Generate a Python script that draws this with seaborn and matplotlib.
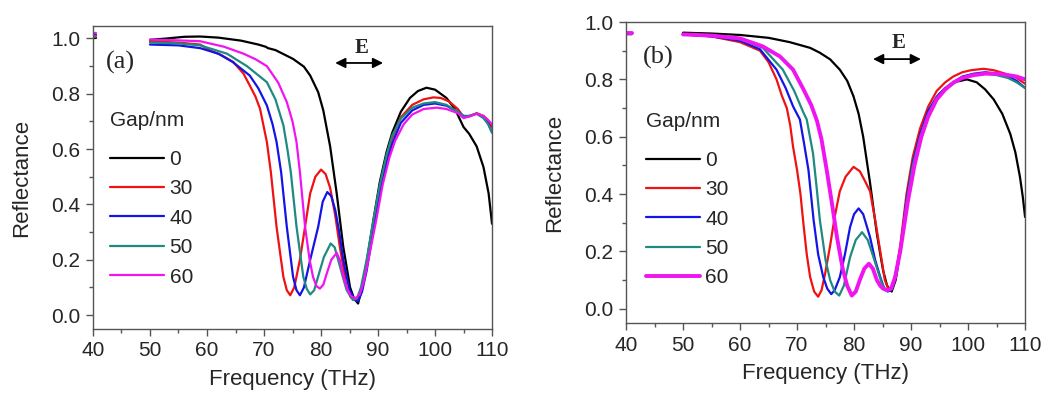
import numpy as np
import pandas as pd
import matplotlib
matplotlib.use("Agg")
import matplotlib.pyplot as plt
from matplotlib.ticker import MultipleLocator
import seaborn as sns

# ---------------- data: panel (a) ----------------
gaps = ["0", "30", "40", "50", "60"]
colors = ["#000000", "#f01212", "#1414e6", "#1f8a82", "#f014f0"]

a_f0 = [50, 53, 56, 58.8, 62, 66, 69, 70.3, 70.7, 72, 75.1, 77, 78.1, 79.5, 80.4, 81.6, 82.75, 83.9, 85.1, 85.8, 86.5, 87.2, 88, 89.2, 90.3, 91.5, 92.5, 94, 95.6, 97, 98.5, 100, 102, 103.5, 105, 106, 107.3, 108.5, 109.4, 110]
a_r0 = [0.995, 1.0, 1.006, 1.007, 1.003, 0.992, 0.978, 0.97, 0.965, 0.958, 0.926, 0.898, 0.866, 0.806, 0.74, 0.61, 0.44, 0.247, 0.10, 0.06, 0.042, 0.10, 0.19, 0.345, 0.48, 0.59, 0.66, 0.735, 0.785, 0.81, 0.822, 0.815, 0.785, 0.745, 0.68, 0.655, 0.61, 0.535, 0.44, 0.33]

a_f30 = [50, 55, 58.8, 60.5, 62.5, 64.6, 66.4, 67.5, 68.5, 69.3, 70.5, 71.2, 72.2, 73.4, 74.0, 74.6, 75.3, 76.3, 77.2, 78.1, 79.0, 80.0, 80.8, 81.6, 82.5, 83.3, 84.5, 85.2, 85.8, 86.5, 87.2, 88, 89.2, 90.3, 91.5, 92.5, 94, 96, 98, 99.7, 101, 102.5, 104, 105, 106, 107.3, 108.5, 109.3, 110]
a_r30 = [0.99, 0.985, 0.978, 0.957, 0.94, 0.915, 0.873, 0.83, 0.79, 0.746, 0.626, 0.517, 0.319, 0.138, 0.09, 0.072, 0.10, 0.2, 0.32, 0.44, 0.50, 0.526, 0.51, 0.46, 0.36, 0.247, 0.10, 0.065, 0.055, 0.06, 0.10, 0.18, 0.33, 0.46, 0.57, 0.64, 0.715, 0.76, 0.78, 0.787, 0.785, 0.772, 0.745, 0.716, 0.718, 0.73, 0.72, 0.705, 0.68]

a_f40 = [50, 55, 58.8, 62, 64.5, 67.5, 69, 70.5, 71.5, 72.2, 73, 74, 75.1, 75.7, 76.3, 77, 78.1, 79.5, 80.3, 81.1, 81.8, 82.5, 83.2, 83.9, 85, 85.9, 86.5, 87.2, 88, 89.2, 90.3, 91.5, 92.5, 94, 96, 98, 100, 102, 104, 105, 106, 107.3, 108.5, 109.3, 110]
a_r40 = [0.978, 0.975, 0.965, 0.945, 0.915, 0.866, 0.82, 0.758, 0.69, 0.626, 0.517, 0.319, 0.138, 0.09, 0.072, 0.10, 0.2, 0.319, 0.41, 0.445, 0.43, 0.38, 0.30, 0.20, 0.09, 0.055, 0.05, 0.085, 0.16, 0.31, 0.44, 0.55, 0.62, 0.695, 0.74, 0.76, 0.765, 0.757, 0.735, 0.72, 0.72, 0.728, 0.715, 0.695, 0.66]

a_f50 = [50, 55, 58.8, 63.5, 67, 70.5, 72, 73.4, 74.1, 74.7, 75.7, 76.9, 77.5, 78.1, 78.8, 79.5, 80.5, 81.7, 82.4, 83.0, 83.8, 84.5, 85.6, 86.3, 87, 88, 89.2, 90.3, 91.5, 92.5, 94, 96, 98, 100, 102, 104, 105, 106, 107.3, 108.5, 109.3, 110]
a_r50 = [0.985, 0.982, 0.975, 0.945, 0.90, 0.842, 0.78, 0.686, 0.60, 0.517, 0.32, 0.138, 0.095, 0.075, 0.09, 0.14, 0.21, 0.259, 0.245, 0.20, 0.14, 0.09, 0.055, 0.06, 0.10, 0.20, 0.345, 0.47, 0.58, 0.65, 0.71, 0.75, 0.765, 0.77, 0.76, 0.735, 0.718, 0.72, 0.728, 0.712, 0.69, 0.66]

a_f60 = [50, 55, 58.8, 63, 66.4, 68.5, 70.5, 72.5, 74, 75, 75.7, 76.3, 77.2, 78.0, 78.6, 79.2, 79.8, 80.4, 81, 81.8, 82.75, 83.3, 83.8, 84.5, 85.2, 86, 86.8, 87.5, 88.5, 89.7, 90.8, 92, 93, 94.5, 96, 98, 100.3, 102, 104, 105, 106, 107.3, 108.5, 109.3, 110]
a_r60 = [0.996, 0.993, 0.99, 0.97, 0.945, 0.925, 0.90, 0.84, 0.77, 0.70, 0.626, 0.517, 0.32, 0.20, 0.138, 0.105, 0.096, 0.11, 0.15, 0.20, 0.225, 0.20, 0.15, 0.10, 0.07, 0.06, 0.075, 0.12, 0.22, 0.345, 0.47, 0.57, 0.63, 0.69, 0.725, 0.745, 0.75, 0.745, 0.73, 0.712, 0.718, 0.728, 0.72, 0.705, 0.69]

# short stubs drawn at the left edge of each panel (40 THz)
a_stub_f = [40, 40.5]
a_stub_r = [1.0, 1.005, 1.012, 1.008, 1.02]

# ---------------- data: panel (b) ----------------
b_f0 = [50, 55, 60, 65, 68.7, 72.3, 74, 75.8, 77.5, 78.8, 79.9, 80.8, 81.6, 82.2, 82.8, 83.4, 84, 84.6, 85.1, 85.8, 86.6, 87.3, 88.1, 88.8, 89.6, 90.5, 91.5, 93, 95, 97.5, 99.8, 101.5, 103, 104.5, 106, 107.4, 108.3, 109.1, 109.6, 110]
b_r0 = [0.963, 0.96, 0.955, 0.945, 0.93, 0.91, 0.893, 0.87, 0.834, 0.795, 0.741, 0.68, 0.60, 0.52, 0.44, 0.35, 0.262, 0.19, 0.133, 0.08, 0.06, 0.10, 0.20, 0.30, 0.41, 0.50, 0.58, 0.67, 0.75, 0.79, 0.80, 0.79, 0.765, 0.73, 0.68, 0.61, 0.545, 0.46, 0.39, 0.32]

b_f30 = [50, 55, 60, 63.5, 65, 66.4, 67.3, 68.2, 68.8, 69.3, 70.0, 70.6, 71.1, 71.7, 72.3, 73.0, 73.7, 74.3, 74.9, 75.8, 76.6, 77.5, 78.5, 79.9, 81, 81.8, 82.8, 83.7, 84.6, 85.4, 86, 86.6, 87.3, 88.1, 89.2, 90.3, 91.6, 93, 94.5, 96, 97.4, 99, 100.5, 102.7, 104.5, 106.5, 108.5, 110]
b_r30 = [0.957, 0.95, 0.93, 0.90, 0.86, 0.80, 0.745, 0.70, 0.64, 0.565, 0.484, 0.40, 0.30, 0.19, 0.11, 0.06, 0.042, 0.065, 0.12, 0.22, 0.32, 0.41, 0.46, 0.495, 0.48, 0.45, 0.41, 0.31, 0.20, 0.10, 0.07, 0.07, 0.12, 0.22, 0.40, 0.53, 0.63, 0.705, 0.76, 0.79, 0.81, 0.825, 0.832, 0.837, 0.832, 0.82, 0.805, 0.785]

b_f40 = [50, 55, 60, 63.5, 66.4, 68, 69.3, 70.5, 71.2, 72, 72.9, 73.7, 74.6, 75.3, 76.0, 76.6, 77.5, 78.4, 79.3, 80, 80.8, 81.6, 82.2, 82.8, 83.7, 84.6, 85.3, 85.9, 86.6, 87.3, 88.1, 89.2, 90.3, 91.6, 93, 94.5, 96, 97.4, 99, 101, 103, 105, 107, 108.5, 110]
b_r40 = [0.957, 0.95, 0.935, 0.905, 0.834, 0.77, 0.706, 0.66, 0.58, 0.484, 0.31, 0.19, 0.11, 0.07, 0.051, 0.065, 0.11, 0.19, 0.285, 0.33, 0.35, 0.33, 0.29, 0.25, 0.17, 0.11, 0.07, 0.06, 0.065, 0.11, 0.20, 0.38, 0.51, 0.61, 0.69, 0.74, 0.77, 0.79, 0.81, 0.82, 0.825, 0.82, 0.81, 0.795, 0.77]

b_f50 = [50, 55, 60, 64, 67.5, 69.5, 71.1, 71.7, 72.8, 73.4, 74, 75, 75.8, 76.6, 77.4, 78.2, 79.3, 80.3, 81.4, 82.4, 83.4, 84.2, 84.9, 85.6, 86.3, 87, 88, 89.2, 90.3, 91.6, 93, 94.5, 96, 97.4, 99, 101, 103, 105, 107, 108.5, 110]
b_r50 = [0.957, 0.952, 0.94, 0.91, 0.834, 0.76, 0.685, 0.66, 0.542, 0.43, 0.31, 0.17, 0.10, 0.06, 0.046, 0.08, 0.18, 0.24, 0.267, 0.24, 0.18, 0.13, 0.087, 0.063, 0.065, 0.10, 0.19, 0.37, 0.50, 0.60, 0.68, 0.735, 0.765, 0.785, 0.805, 0.815, 0.82, 0.815, 0.805, 0.79, 0.77]

b_f60 = [50, 55, 60, 64, 67, 69.3, 71, 72.5, 73.5, 74.3, 75.2, 76.1, 77, 78, 78.8, 79.6, 80.3, 81, 81.8, 82.6, 83.3, 84, 84.6, 85.1, 85.8, 86.5, 87.2, 88.1, 89.4, 90.6, 91.8, 93, 94.5, 96, 97.5, 99, 101, 103, 105, 107, 108.5, 110]
b_r60 = [0.957, 0.953, 0.943, 0.915, 0.88, 0.834, 0.77, 0.71, 0.655, 0.59, 0.484, 0.37, 0.25, 0.14, 0.08, 0.046, 0.06, 0.10, 0.14, 0.157, 0.14, 0.10, 0.08, 0.07, 0.065, 0.07, 0.11, 0.20, 0.37, 0.50, 0.60, 0.67, 0.73, 0.765, 0.79, 0.805, 0.815, 0.82, 0.82, 0.815, 0.81, 0.80]

b_stub_f = [40, 41]
b_stub_r = [0.96, 0.96, 0.96, 0.96, 0.962]

x_ticks = [40, 50, 60, 70, 80, 90, 100, 110]
y_ticks = [0.0, 0.2, 0.4, 0.6, 0.8, 1.0]


def build_frame(freqs, refls, stub_f, stub_r):
    rows = []
    for g, f, r, sr in zip(gaps, freqs, refls, stub_r):
        for fi in stub_f:
            rows.append((fi, sr, g, g + "_stub"))
        for fi, ri in zip(f, r):
            rows.append((fi, ri, g, g + "_main"))
    return pd.DataFrame(rows, columns=["freq", "refl", "gap", "seg"])


df_a = build_frame([a_f0, a_f30, a_f40, a_f50, a_f60],
                   [a_r0, a_r30, a_r40, a_r50, a_r60], a_stub_f, a_stub_r)
df_b = build_frame([b_f0, b_f30, b_f40, b_f50, b_f60],
                   [b_r0, b_r30, b_r40, b_r50, b_r60], b_stub_f, b_stub_r)

sns.set_theme(style="ticks")
plt.rcParams["font.family"] = ["Liberation Sans", "DejaVu Sans"]
plt.rcParams["axes.edgecolor"] = "#555555"
plt.rcParams["axes.linewidth"] = 1.0

fig = plt.figure(figsize=(10.46, 3.94), dpi=100)
ax_a = fig.add_axes([0.0889, 0.165, 0.3815, 0.769])
ax_b = fig.add_axes([0.5985, 0.180, 0.3815, 0.764])

palette = dict(zip(gaps, colors))

panels = [
    (ax_a, df_a, (-0.05, 1.045), "(a)", (0.07, 0.88), (0.674, 0.927), (0.607, 0.727, 0.878), (0.043, 0.718), 1.6),
    (ax_b, df_b, (-0.05, 1.0), "(b)", (0.08, 0.882), (0.682, 0.929), (0.619, 0.739, 0.877), (0.05, 0.70), 2.8),
]

for ax, df, ylim, tag, tagpos, epos, arr, legpos, mag_lw in panels:
    sns.lineplot(data=df, x="freq", y="refl", hue="gap", hue_order=gaps,
                 palette=palette, units="seg", estimator=None, sort=False,
                 linewidth=1.6, ax=ax, legend=True)
    for line in ax.lines:
        if matplotlib.colors.to_hex(line.get_color()) == colors[4]:
            line.set_linewidth(mag_lw)
    ax.set_xlim(40, 110)
    ax.set_ylim(*ylim)
    ax.set_xticks(x_ticks)
    ax.set_yticks(y_ticks)
    ax.set_yticklabels([f"{v:.1f}" for v in y_ticks])
    ax.xaxis.set_minor_locator(MultipleLocator(5))
    ax.yaxis.set_minor_locator(MultipleLocator(0.1))
    ax.tick_params(axis="both", which="major", direction="out", length=5,
                   width=1, labelsize=15, color="#555555", pad=4)
    ax.tick_params(axis="both", which="minor", direction="out", length=3,
                   width=1, color="#555555")
    for s in ax.spines.values():
        s.set_visible(True)
        s.set_color("#555555")
    ax.set_xlabel("Frequency (THz)", fontsize=16, labelpad=6)
    ax.set_ylabel("Reflectance", fontsize=16, labelpad=14)

    ax.text(tagpos[0], tagpos[1], tag, transform=ax.transAxes,
            fontsize=19, family="Liberation Serif", ha="center", va="center")
    ax.text(epos[0], epos[1], "E", transform=ax.transAxes, fontsize=15,
            family="Liberation Serif", fontweight="bold", ha="center", va="center")
    ax.annotate("", xy=(arr[0], arr[2]), xytext=(arr[1], arr[2]),
                xycoords="axes fraction", textcoords="axes fraction",
                arrowprops=dict(arrowstyle="<|-|>", color="black", lw=1.3,
                                mutation_scale=15, shrinkA=0, shrinkB=0))

    handles, labels = ax.get_legend_handles_labels()
    leg = ax.legend(handles, labels, title="Gap/nm", loc="upper left",
                    bbox_to_anchor=legpos, frameon=False, fontsize=15,
                    title_fontsize=15, handlelength=2.6, handletextpad=0.25,
                    labelspacing=0.5, borderpad=0, borderaxespad=0,
                    alignment="left")
    leg._legend_box.sep = 14
    for h in leg.get_lines():
        if matplotlib.colors.to_hex(h.get_color()) == colors[4]:
            h.set_linewidth(mag_lw)
        else:
            h.set_linewidth(1.6)

fig.savefig("out.png", dpi=100)
